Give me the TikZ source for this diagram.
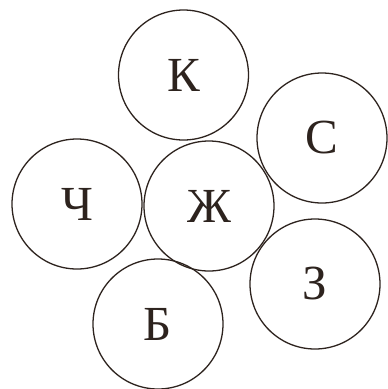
\documentclass[tikz,border=0pt]{standalone}
\usepackage{fontspec}
\setmainfont{Liberation Serif}
\definecolor{ink}{RGB}{45,35,30}
\begin{document}
\begin{tikzpicture}[x=1pt, y=-1pt, line width=1.3pt,
    ring/.style={circle, draw=ink, minimum size=130pt, inner sep=0pt, text=ink,
        font=\fontsize{49}{52}\selectfont}]
    % 1. 边界
    \useasboundingbox (0,0) rectangle (388,389);

    % 2. 圆
    \node[ring] (K) at (183.5, 75) {К};
    \node[ring] (S) at (322, 138) {С};
    \node[ring] (Ch) at (77, 204) {Ч};
    \node[ring] (Zh) at (209, 206) {Ж};
    \node[ring] (Z) at (315, 284) {З};
    \node[ring] (B) at (158, 324) {Б};
\end{tikzpicture}
\end{document}
